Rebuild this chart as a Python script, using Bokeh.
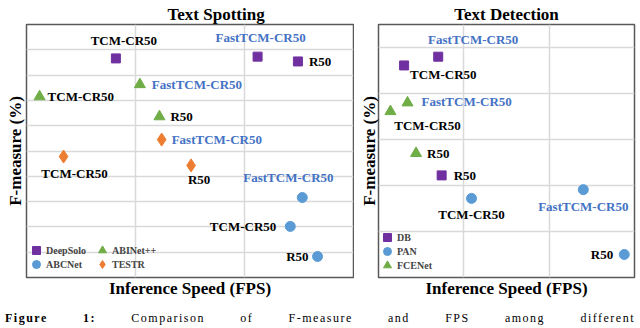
from bokeh.plotting import figure
from bokeh.models import (Range1d, Grid, FixedTicker, Legend, LegendItem,
                          ColumnDataSource, Div)
from bokeh.layouts import row, column
from bokeh.core.properties import value
from bokeh.embed import file_html
from bokeh.resources import INLINE

# ---------------- data (arbitrary units) ----------------
variants = ["TCM-CR50", "FastTCM-CR50", "R50"]

# Text spotting
deepsolo_fps = [0.82, 2.12, 2.49]
deepsolo_f = [8.66, 8.73, 8.54]
abinet_fps = [0.12, 1.04, 1.22]
abinet_f = [7.15, 7.63, 6.36]
testr_fps = [0.34, 1.24, 1.51]
testr_f = [4.78, 5.45, 4.43]
abcnet_fps = [2.42, 2.53, 2.67]
abcnet_f = [2.02, 3.16, 0.83]

# Text detection
db_fps = [0.30, 0.70, 0.74]
db_f = [4.61, 4.80, 2.22]
pan_fps = [1.09, 2.40, 2.88]
pan_f = [1.72, 1.91, 0.50]
fcenet_fps = [0.14, 0.34, 0.44]
fcenet_f = [3.61, 3.80, 2.70]

caption_text = "<b>Figure 1:</b> Comparison of F-measure and FPS among different"

# ---------------- styles ----------------
FONT_NAME = "Liberation Serif"
FONT = value(FONT_NAME)
PURPLE, GREEN, ORANGE, BLUE = "#7030A0", "#70AD47", "#ED7D31", "#5B9BD5"
LBL_BLUE = "#4472C4"
GRID = "#D9D9D9"

# label placement per variant (dx, dy in px, screen-down positive; align)
spot_offsets = {
    "deepsolo": [(8, -18, "center"), (3, -19, "center"), (11, 0, "left")],
    "abinet": [(8, 0, "left"), (12, 0, "left"), (11, 0, "left")],
    "testr": [(11, 17, "center"), (10, 0, "left"), (8, 14, "center")],
    "abcnet": [(-14, 0, "right"), (-59, -20, "left"), (-9, 0, "right")],
}
det_offsets = {
    "db": [(6, 9, "left"), (35, -17, "center"), (12, 0, "left")],
    "pan": [(0, 16, "center"), (0, 17, "center"), (-11, 0, "right")],
    "fcenet": [(37, 14, "center"), (14, -1, "left"), (11, 0, "left")],
}


def make_fig(title, title_align, title_offset, ymax, yticks, min_left, frame_w,
             min_right, min_top, min_bottom, ylab_standoff):
    p = figure(frame_width=frame_w, frame_height=253,
               min_border_left=min_left, min_border_right=min_right,
               min_border_top=min_top, min_border_bottom=min_bottom,
               x_range=Range1d(0, 3), y_range=Range1d(0, ymax),
               toolbar_location=None, output_backend="svg")
    p.outline_line_color = "#595959"
    p.outline_line_width = 1.5
    p.background_fill_color = "white"
    p.border_fill_color = "white"
    p.grid.visible = False
    p.title.text = title
    p.title.align = title_align
    p.title.offset = title_offset
    p.title.standoff = 1
    p.title.text_font = FONT_NAME
    p.title.text_font_style = "bold"
    p.title.text_font_size = "17px"
    p.title.text_color = "black"
    for ax in (p.xaxis[0], p.yaxis[0]):
        ax.ticker = FixedTicker(ticks=[])
        ax.axis_line_color = None
        ax.major_tick_line_color = None
        ax.minor_tick_line_color = None
        ax.major_tick_in = 0
        ax.major_tick_out = 0
        ax.minor_tick_in = 0
        ax.minor_tick_out = 0
        ax.major_label_standoff = 0
        ax.major_label_text_font_size = "0px"
        ax.axis_label_text_font = FONT_NAME
        ax.axis_label_text_font_style = "bold"
        ax.axis_label_text_font_size = "17px"
        ax.axis_label_text_color = "black"
    p.xaxis[0].axis_label = "Inference Speed (FPS)"
    p.xaxis[0].axis_label_standoff = 1
    p.yaxis[0].axis_label = "F-measure (%)"
    p.yaxis[0].axis_label_standoff = ylab_standoff
    p.add_layout(Grid(dimension=0, ticker=FixedTicker(ticks=[1, 2]),
                      grid_line_color=GRID, grid_line_width=1.5))
    p.add_layout(Grid(dimension=1, ticker=FixedTicker(ticks=yticks),
                      grid_line_color=GRID, grid_line_width=1.5))
    return p


def add_series(p, xs, ys, marker, color, size, offsets):
    src = ColumnDataSource(dict(
        x=xs, y=ys, label=variants,
        dx=[o[0] for o in offsets], dy=[o[1] for o in offsets],
        align=[o[2] for o in offsets],
        color=["#000000" if v != "FastTCM-CR50" else LBL_BLUE for v in variants]))
    r = p.scatter(x="x", y="y", source=src, marker=marker, size=size,
                  fill_color=color, line_color=color)
    p.text(x="x", y="y", text="label", x_offset="dx", y_offset="dy",
           text_align="align", text_baseline="middle", text_color="color",
           text_font=FONT, text_font_style="bold", text_font_size="13px",
           source=src)
    return r


def add_legend(p, items, loc):
    leg = Legend(items=[LegendItem(label=l, renderers=[r]) for l, r in items],
                 location=loc, orientation="horizontal")
    leg.background_fill_alpha = 0
    leg.border_line_color = None
    leg.label_text_font = FONT_NAME
    leg.label_text_font_style = "bold"
    leg.label_text_font_size = "10px"
    leg.glyph_width = 20
    leg.glyph_height = 20
    leg.label_height = 10
    leg.label_width = 46
    leg.label_standoff = 0
    leg.padding = 0
    leg.spacing = 0
    leg.margin = 0
    p.add_layout(leg)


# ---------------- left: text spotting ----------------
p1 = make_fig("Text Spotting", "left", 141, 10, list(range(1, 10)),
              26, 327, 1, 24, 30, 2)
r_ds = add_series(p1, deepsolo_fps, deepsolo_f, "square", PURPLE, 9, spot_offsets["deepsolo"])
r_ab = add_series(p1, abinet_fps, abinet_f, "triangle", GREEN, 11, spot_offsets["abinet"])
r_te = add_series(p1, testr_fps, testr_f, "diamond", ORANGE, 13, spot_offsets["testr"])
r_ac = add_series(p1, abcnet_fps, abcnet_f, "circle", BLUE, 10, spot_offsets["abcnet"])
add_legend(p1, [("DeepSolo", r_ds), ("ABINet++", r_ab)], (0, 17))
add_legend(p1, [("ABCNet", r_ac), ("TESTR", r_te)], (0, 3))

# ---------------- right: text detection ----------------
p2 = make_fig("Text Detection", "center", 0, 5.5, [1, 2, 3, 4, 5],
              24, 256, 5, 23, 31, 0)
r_db = add_series(p2, db_fps, db_f, "square", PURPLE, 9, det_offsets["db"])
r_pan = add_series(p2, pan_fps, pan_f, "circle", BLUE, 10, det_offsets["pan"])
r_fce = add_series(p2, fcenet_fps, fcenet_f, "triangle", GREEN, 11, det_offsets["fcenet"])
add_legend(p2, [("DB", r_db)], (-1, 30))
add_legend(p2, [("PAN", r_pan)], (-1, 16))
add_legend(p2, [("FCENet", r_fce)], (-1, 2))

caption = Div(text=('<div style="width: 630px; text-align: justify; '
                    'text-align-last: justify; letter-spacing: 1.5px;">'
                    + caption_text + '</div>'),
              width=640, height=13,
              styles={"font-family": "Liberation Serif",
                      "font-size": "12px", "line-height": "13px",
                      "color": "black"})

layout = column(row(p1, p2), caption)
open("out.html", "w").write(file_html(layout, INLINE))
